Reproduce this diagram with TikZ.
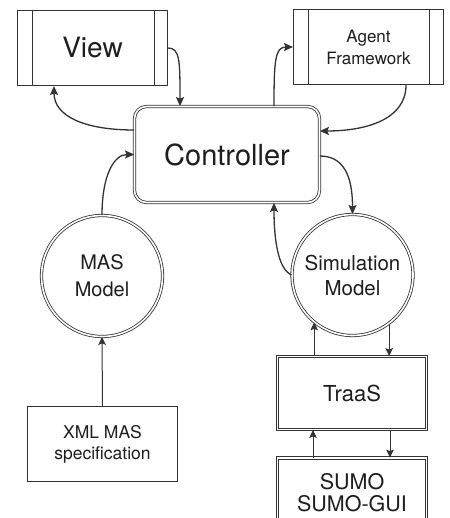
\documentclass[tikz,border=0pt]{standalone}
\usepackage{fontspec}
\setmainfont{TeX Gyre Heros}
\usetikzlibrary{arrows.meta}
\definecolor{ln}{HTML}{333333}
\definecolor{tx}{HTML}{1E1E1E}
\begin{document}
\begin{tikzpicture}[x=1pt,y=-1pt,
  every node/.style={text=tx, align=center, inner sep=0pt},
  single/.style={draw=ln, line width=1pt, rectangle},
  dbl/.style={draw=ln, line width=0.8pt, double=white, double distance=1.6pt},
  arr/.style={draw=ln, line width=1.3pt, -{Stealth[length=9pt,width=8pt,inset=1.5pt]}},
  sarr/.style={draw=ln, line width=1pt, -{Stealth[length=8pt,width=7.5pt,inset=1.5pt]}},
  bar/.style={draw=ln, line width=1pt}
]
\clip (0,0) rectangle (449,518);
\fill[white] (0,0) rectangle (449,518);

\node[single, minimum width=150pt, minimum height=75pt,
  font=\fontsize{28}{30}\selectfont] (view) at (92.5,48) {View};
\node[single, minimum width=150pt, minimum height=75pt,
  font=\fontsize{17}{22}\selectfont] (agent) at (368.5,47) {Agent\\Framework};
\draw[bar] ([xshift=15pt]view.north west) -- ([xshift=15pt]view.south west);
\draw[bar] ([xshift=-14pt]view.north east) -- ([xshift=-14pt]view.south east);
\draw[bar] ([xshift=15pt]agent.north west) -- ([xshift=15pt]agent.south west);
\draw[bar] ([xshift=-15pt]agent.north east) -- ([xshift=-15pt]agent.south east);

\node[dbl, rounded corners=12pt, minimum width=185pt, minimum height=96pt,
  font=\fontsize{29}{31}\selectfont] (ctrl) at (227,154.5) {Controller};

\node[dbl, circle, minimum size=121pt,
  font=\fontsize{20}{27}\selectfont] (mas) at (102,276) {MAS\\Model};
\node[dbl, circle, minimum size=121pt,
  font=\fontsize{20.5}{25}\selectfont] (sim) at (352.5,275) {Simulation\\Model};

\node[dbl, minimum width=149pt, minimum height=73pt,
  font=\fontsize{22}{24}\selectfont] (traas) at (352,393) {TraaS};
\node[dbl, minimum width=149pt, minimum height=70pt,
  font=\fontsize{21.5}{22}\selectfont] (sumo) at (352,493) {SUMO\\SUMO-GUI};

\node[single, minimum width=150pt, minimum height=75pt,
  font=\fontsize{17.5}{21}\selectfont] (xml) at (102.5,444) {XML MAS\\specification};

% curved connectors
\draw[arr] (view.east) .. controls +(12,0) and +(0,-45) .. ([xshift=-47pt]ctrl.north);
\draw[arr] ([yshift=24.5pt]ctrl.west) .. controls +(-50,0) and +(0,30) .. ([xshift=-38.5pt]view.south);
\draw[arr] ([xshift=47pt]ctrl.north) .. controls +(0,-45) and +(-18,0) .. (agent.west);
\draw[arr] ([xshift=37.5pt]agent.south) .. controls +(0,35) and +(45,0) .. ([yshift=23.5pt]ctrl.east);
\draw[arr] (mas.north) .. controls +(0,-40) and +(-20,0) .. (ctrl.west);
\draw[arr] ([yshift=-1.5pt]ctrl.east) .. controls +(28,0) and +(0,-30) .. (sim.north);
\draw[arr] (sim.west) .. controls +(-14,-6) and +(0,35) .. ([xshift=47pt]ctrl.south);

% straight connectors
\draw[sarr] (sim.231 |- traas.north) -- (sim.231);
\draw[sarr] (sim.307) -- (sim.307 |- traas.north);
\draw[sarr] ([xshift=-39pt]sumo.north) -- ([xshift=-39pt]traas.south);
\draw[sarr] ([xshift=38pt]traas.south) -- ([xshift=38pt]sumo.north);
\draw[sarr] (xml.north) -- (mas.south);
\end{tikzpicture}
\end{document}
